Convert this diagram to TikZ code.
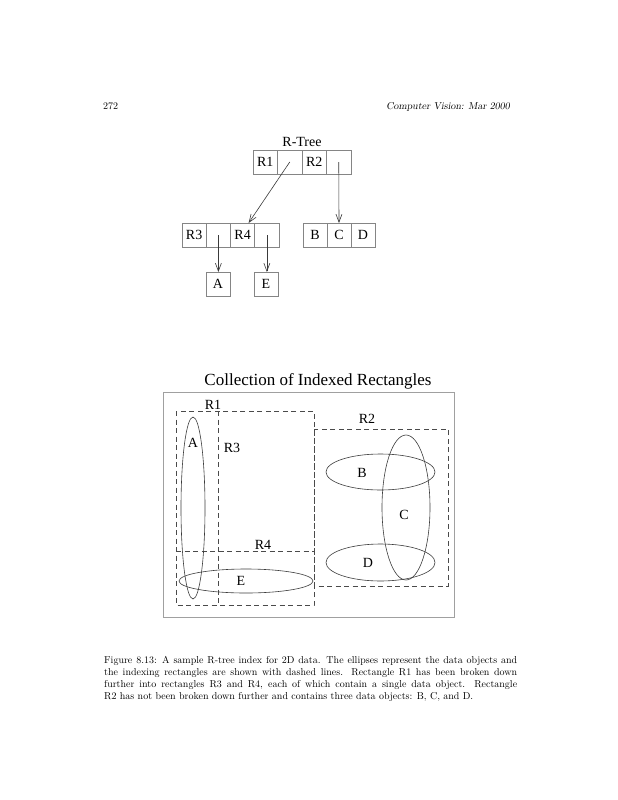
\documentclass[tikz,border=0pt]{standalone}
\usepackage{fontspec}
\newfontfamily\figfont{Liberation Serif}
\usetikzlibrary{
  arrows.meta,
  positioning
}
\definecolor{rtLine}{HTML}{858585}
\definecolor{rtArrow}{HTML}{3A3A3A}
\definecolor{rtDash}{HTML}{4A4A4A}
\definecolor{rtFrame}{HTML}{A0A0A0}
\definecolor{rtObj}{HTML}{3C3C3C}
\tikzset{
  rtcell/.style={
    draw=rtLine, line width=0.8pt, minimum width=24.5pt, minimum height=24pt,
    inner sep=0pt, outer sep=0pt, font=\figfont\fontsize{14}{16}\selectfont
  },
  leafcell/.style={rtcell, minimum width=24.25pt},
  datacell/.style={rtcell, minimum width=24pt},
  ptr/.style={-{Straight Barb[length=8pt, width=6pt]}, line width=0.6pt, rtArrow},
  treelabel/.style={font=\figfont\fontsize{14}{16}\selectfont, inner sep=0pt},
  bigtitle/.style={font=\figfont\fontsize{17}{20}\selectfont, inner sep=0pt},
  rectlabel/.style={font=\figfont\fontsize{14}{16}\selectfont, inner sep=0pt},
  frame/.style={draw=rtFrame, line width=0.9pt},
  idx/.style={draw=rtDash, line width=0.7pt, dash pattern=on 5pt off 3.5pt},
  obj/.style={draw=rtObj, line width=0.6pt}
}
\begin{document}
\begin{tikzpicture}[x=1pt, y=-1pt]
  \useasboundingbox[fill=white] (0,0) rectangle (618,800);
  % running head
  \node[anchor=base west, inner sep=0pt] (pgno) at (103,109) {272};
  \node[anchor=base east, inner sep=0pt] (runhead) at (510,109) {\slshape Computer Vision: Mar 2000};
  % R-tree
  \node[rtcell, anchor=north west] (r1) at (253,150) {R1};
  \node[rtcell, right=0pt of r1] (p1) {};
  \node[rtcell, right=0pt of p1] (r2) {R2};
  \node[rtcell, right=0pt of r2] (p2) {};
  \node[treelabel, above=3pt of r2.north west] (rtree) {R-Tree};
  \node[leafcell, anchor=north west] (r3) at (182,223) {R3};
  \node[leafcell, right=0pt of r3] (p3) {};
  \node[leafcell, right=0pt of p3] (r4) {R4};
  \node[leafcell, right=0pt of r4] (p4) {};
  \node[datacell, anchor=north west] (b) at (303,223) {B};
  \node[datacell, right=0pt of b] (c) {C};
  \node[datacell, right=0pt of c] (d) {D};
  \node[datacell, anchor=north west] (a) at (206,272) {A};
  \node[datacell, anchor=north west] (e) at (254,272) {E};
  \draw[ptr] (p1.center) -- ([xshift=6pt]r4.north);
  \draw[ptr] (p2.center) -- (c.north);
  \draw[ptr] (p3.center) -- (p3.center |- a.north);
  \draw[ptr] (p4.center) -- (p4.center |- e.north);
  % indexed rectangles
  \node[bigtitle] (title) at (318,381) {Collection of Indexed Rectangles};
  \draw[frame] (163,392) rectangle (454,617);
  \draw[idx] (176,411) rectangle (314,605);
  \draw[idx] (218,411) -- (218,605);
  \draw[idx] (176,551) -- (314,551);
  \draw[idx] (314,429) rectangle (448,586);
  \draw[obj] (193,508) ellipse [x radius=12pt, y radius=91pt];
  \draw[obj] (246,581) ellipse [x radius=67pt, y radius=12pt];
  \draw[obj] (380.5,472) ellipse [x radius=54.5pt, y radius=18pt];
  \draw[obj] (406,507.5) ellipse [x radius=24pt, y radius=72.5pt];
  \draw[obj] (380.5,562.5) ellipse [x radius=54.5pt, y radius=18.5pt];
  \node[rectlabel] (lr1) at (213,405) {R1};
  \node[rectlabel] (lr2) at (367,419) {R2};
  \node[rectlabel] (lr3) at (232,448) {R3};
  \node[rectlabel] (lr4) at (263,545) {R4};
  \node[rectlabel] (la) at (193,443) {A};
  \node[rectlabel] (lb) at (362,473) {B};
  \node[rectlabel] (lc) at (404,515) {C};
  \node[rectlabel] (ld) at (368,563) {D};
  \node[rectlabel] (le) at (241,581) {E};
  % caption
  \node[anchor=north west, text width=413pt, align=justify, inner sep=0pt] (caption) at (104,656)
    {Figure 8.13: A sample R-tree index for 2D data. The ellipses represent the data objects and\linebreak
     the indexing rectangles are shown with dashed lines. Rectangle R1 has been broken down\linebreak
     further into rectangles R3 and R4, each of which contain a single data object. Rectangle\linebreak
     R2 has not been broken down further and contains three data objects: B, C, and D.};
\end{tikzpicture}
\end{document}
